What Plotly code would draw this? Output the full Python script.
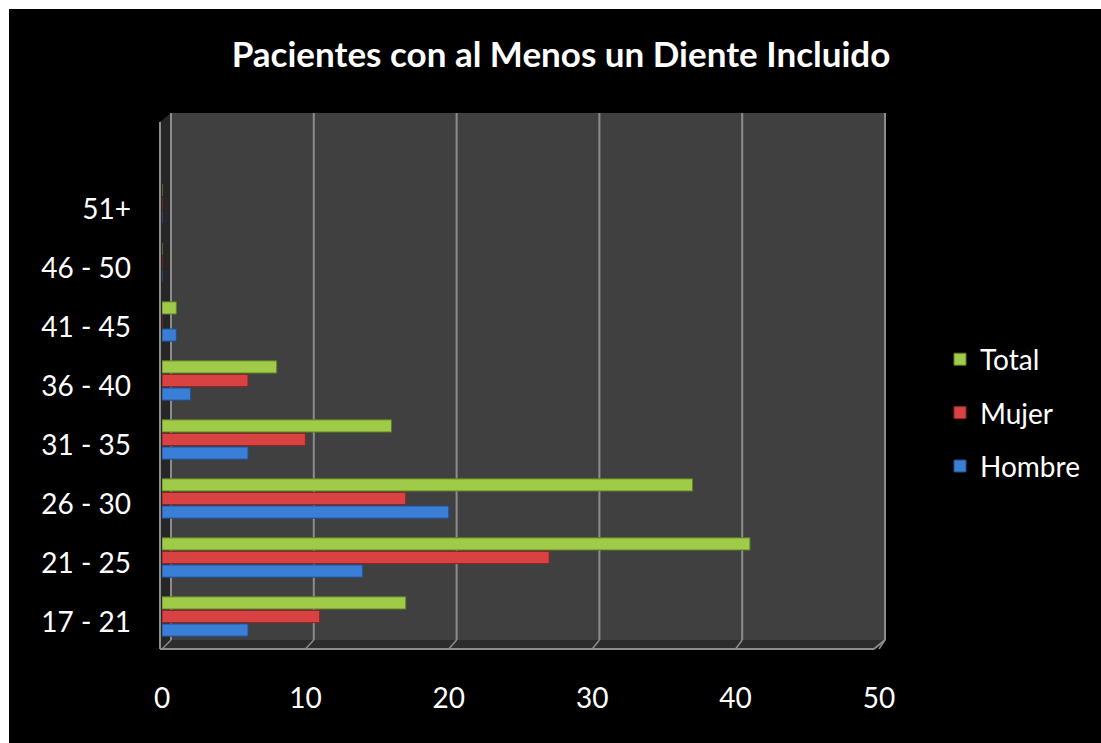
import plotly.graph_objects as go

# Age groups (bottom to top) and patient counts per group
age_groups = ["17 - 21", "21 - 25", "26 - 30", "31 - 35", "36 - 40", "41 - 45", "46 - 50", "51+"]
hombre = [6, 14, 20, 6, 2, 1, 0, 0]
mujer = [11, 27, 17, 10, 6, 0, 0, 0]
total = [17, 41, 37, 16, 8, 1, 0, 0]
x_ticks = [0, 10, 20, 30, 40, 50]

W, H = 1101, 743
# plot area (front plane) in pixels
L, R, T, B = 162, 879, 122, 649
# back wall of the 3D frame, in pixels
BL, BR, BT, BB = 171, 885, 113, 640
XMAX = 50

FONT = "Lato"


def px(x):
    return (x - L) / (R - L)


def py(y):
    return (B - y) / (B - T)


idx = list(range(len(age_groups)))

fig = go.Figure()
series = [
    ("Hombre", hombre, "#3a7fd5", "#1f4f8f", 3),
    ("Mujer", mujer, "#d84242", "#8a2323", 2),
    ("Total", total, "#a0cb48", "#5f7d24", 1),
]
for name, vals, col, edge, rank in series:
    fig.add_trace(go.Bar(
        y=idx, x=vals, name=name, orientation="h",
        marker=dict(color=col, line=dict(color=edge, width=1)),
        legendgroup=name, legendrank=rank,
    ))

# invisible trace carrying the category labels on the label axis
fig.add_trace(go.Scatter(x=[None] * len(idx), y=idx, yaxis="y2", showlegend=False,
                         hoverinfo="skip", mode="markers"))

shapes = []
# black chart panel with a thin white edge on the top and left
shapes.append(dict(type="rect", xref="paper", yref="paper",
                   x0=px(9), x1=px(W + 5), y0=py(9), y1=py(H + 5),
                   fillcolor="black", line=dict(width=0), layer="below"))
# back wall
shapes.append(dict(type="rect", xref="paper", yref="paper",
                   x0=px(BL), x1=px(BR), y0=py(BT), y1=py(BB),
                   fillcolor="#404040", line=dict(width=0), layer="below"))
# left wall
shapes.append(dict(type="path", xref="paper", yref="paper",
                   path=f"M{px(160)},{py(T)} L{px(BL)},{py(BT)} L{px(BL)},{py(BB)} L{px(160)},{py(B)} Z",
                   fillcolor="#262626", line=dict(width=0), layer="below"))
# floor
shapes.append(dict(type="path", xref="paper", yref="paper",
                   path=f"M{px(160)},{py(B)} L{px(BL)},{py(BB)} L{px(BR)},{py(BB)} L{px(BR - 11)},{py(B)} Z",
                   fillcolor="#2c2c2c", line=dict(width=0), layer="below"))

grid = "#8c8c8c"
for v in x_ticks:
    bx = BL + v * (BR - BL) / XMAX
    fx = L + v * (R - L) / XMAX
    shapes.append(dict(type="line", xref="paper", yref="paper",
                       x0=px(bx), x1=px(bx), y0=py(BT), y1=py(BB),
                       line=dict(color=grid, width=2), layer="below"))
    shapes.append(dict(type="line", xref="paper", yref="paper",
                       x0=px(fx), x1=px(bx), y0=py(B), y1=py(BB),
                       line=dict(color=grid, width=1.5), layer="below"))
# frame edges
shapes.append(dict(type="line", xref="paper", yref="paper",
                   x0=px(160), x1=px(160), y0=py(T), y1=py(B),
                   line=dict(color=grid, width=2), layer="below"))
shapes.append(dict(type="line", xref="paper", yref="paper",
                   x0=px(160), x1=px(BR - 11), y0=py(B), y1=py(B),
                   line=dict(color=grid, width=2), layer="below"))
shapes.append(dict(type="line", xref="paper", yref="paper",
                   x0=px(BR - 11), x1=px(BR), y0=py(B), y1=py(BB),
                   line=dict(color=grid, width=2), layer="below"))

fig.update_layout(
    width=W, height=H,
    margin=dict(l=L, r=W - R, t=T, b=H - B, pad=0),
    paper_bgcolor="white", plot_bgcolor="rgba(0,0,0,0)",
    shapes=shapes,
    barmode="group", bargap=0.31, bargroupgap=0.1,
    title=dict(text="<b>Pacientes con al Menos un Diente Incluido</b>",
               x=561 / W, xref="container", xanchor="center",
               y=1 - 55 / H, yref="container", yanchor="middle",
               font=dict(family=FONT, size=35, color="white")),
    font=dict(family=FONT, color="white"),
    xaxis=dict(range=[0, XMAX], tickvals=x_ticks, showgrid=False, zeroline=False,
               showline=False, ticks="", tickfont=dict(size=28, color="white"),
               ticklabelstandoff=30, fixedrange=True),
    yaxis=dict(range=[-(B - 616.5) / 59, (616.5 - T) / 59], showgrid=False, zeroline=False,
               showline=False, showticklabels=False, ticks=""),
    yaxis2=dict(overlaying="y", side="left",
                range=[-(B - 622) / 59, (622 - T) / 59],
                tickvals=idx, ticktext=age_groups, showgrid=False, zeroline=False,
                showline=False, ticks="", tickfont=dict(size=28, color="white"),
                ticklabelstandoff=30),
    legend=dict(x=px(940), xanchor="left", y=py(413), yanchor="middle",
                traceorder="grouped", tracegroupgap=14,
                font=dict(family=FONT, size=28, color="white"),
                bgcolor="rgba(0,0,0,0)", itemwidth=30),
    showlegend=True,
)

fig.write_html("out.html")
